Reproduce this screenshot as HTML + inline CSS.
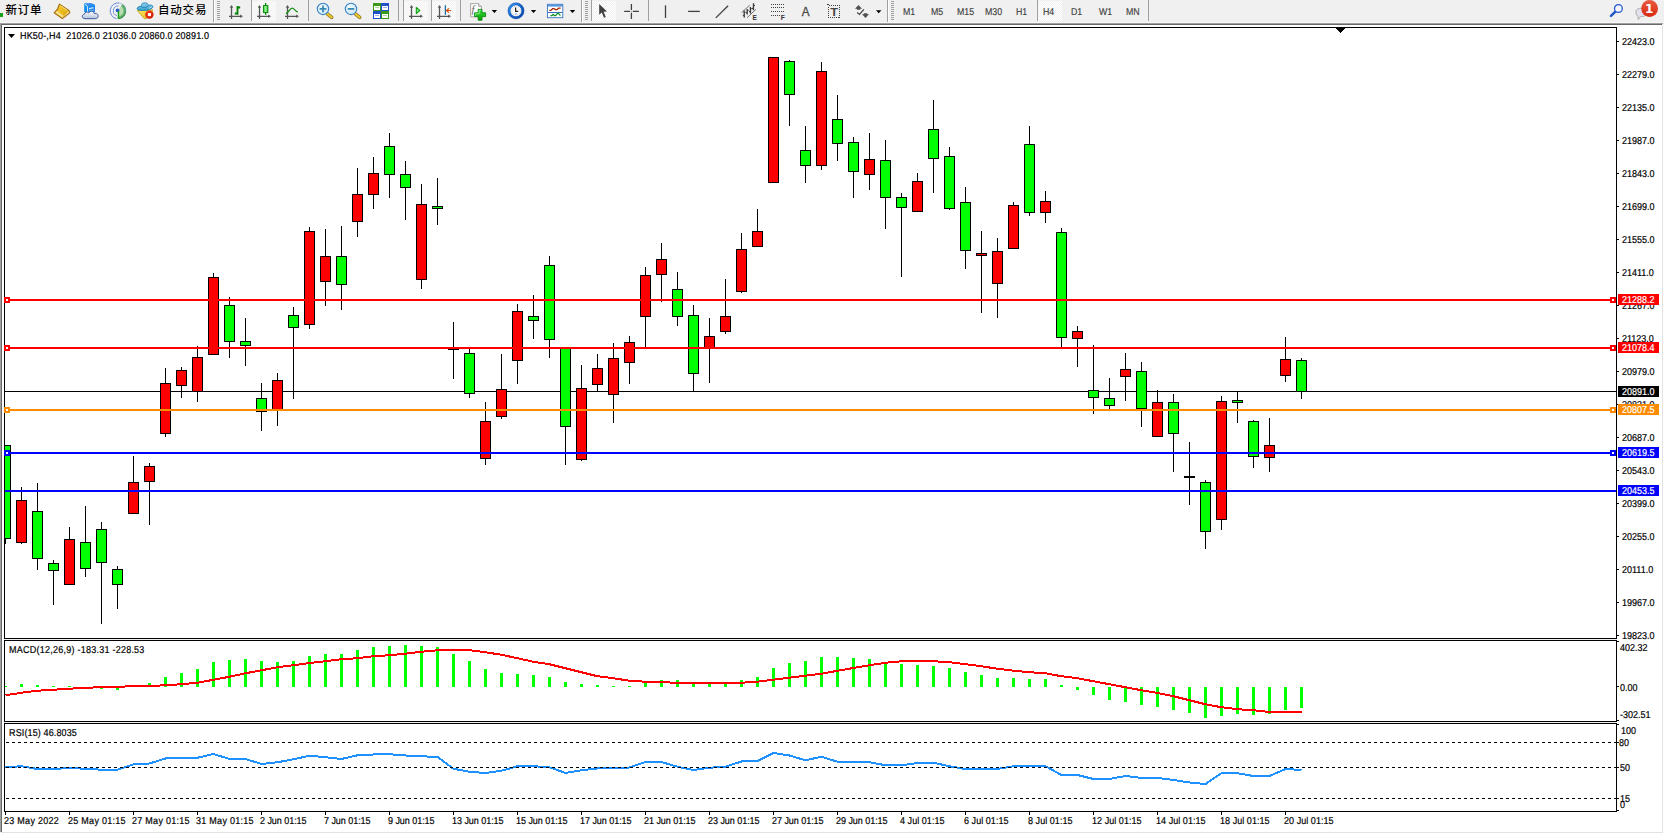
<!DOCTYPE html>
<html><head><meta charset="utf-8"><title>HK50-,H4</title>
<style>
html,body{margin:0;padding:0}
body{width:1664px;height:834px;background:#f0f0f0;position:relative;overflow:hidden;font-family:"Liberation Sans","Noto Sans CJK SC",sans-serif}
.t{position:absolute;font-size:10px;line-height:12px;height:12px;color:#000;white-space:nowrap;transform:scaleX(.9);transform-origin:0 0;text-rendering:geometricPrecision;-webkit-text-stroke:.2px #000}
.tl{letter-spacing:.19px}
.lb{position:absolute;left:1618px;width:41px;height:11px;color:#fff;white-space:nowrap;overflow:hidden}
.lb span{position:absolute;left:4px;top:1px;font-size:10px;line-height:12px;transform:scaleX(.9);transform-origin:0 0;text-rendering:geometricPrecision;-webkit-text-stroke:.2px #fff}
#white{position:absolute;left:2px;top:25px;right:0;bottom:0;background:#fff}
.ln{position:absolute;}
.cj{position:absolute;font-size:11.5px;letter-spacing:.8px;line-height:16px;font-weight:500;color:#000;white-space:nowrap}
.tf{position:absolute;top:7px;font-size:10px;line-height:12px;color:#404040;white-space:nowrap;transform:scaleX(.88);transform-origin:0 0;text-rendering:geometricPrecision;-webkit-text-stroke:.15px #404040}
</style></head><body>
<div class="ln" style="left:0;top:22px;width:1664px;height:1px;background:#f7f7f7"></div>
<div class="ln" style="left:0;top:23px;width:1663px;height:1px;background:#a0a0a0"></div>
<div class="ln" style="left:0;top:23px;width:1px;height:810px;background:#a0a0a0"></div>
<div class="ln" style="left:1px;top:24px;width:1661px;height:1px;background:#696969"></div>
<div class="ln" style="left:1px;top:24px;width:1px;height:808px;background:#696969"></div>
<div id="white"></div><div class="ln" style="left:0;top:832px;width:2px;height:2px;background:#fff"></div>
<div class="ln" style="left:1662px;top:25px;width:1px;height:808px;background:#e3e3e3"></div>
<div class="ln" style="left:1px;top:832px;width:1662px;height:1px;background:#e3e3e3"></div>
<div id="tb" style="position:absolute;left:0;top:0;width:1664px;height:22px;background:#f0f0f0"></div>
<div class="cj" style="left:5.5px;top:1.5px">新订单</div>
<div class="cj" style="left:158px;top:1.5px">自动交易</div>
<svg width="1664" height="23" viewBox="0 0 1664 23" style="position:absolute;left:0;top:0;overflow:visible">
<defs>
<linearGradient id="gold" x1="0" y1="0" x2="1" y2="1"><stop offset="0" stop-color="#f7d432"/><stop offset="0.6" stop-color="#e9b61a"/><stop offset="1" stop-color="#c98f12"/></linearGradient>
<linearGradient id="cloud" x1="0" y1="0" x2="0" y2="1"><stop offset="0" stop-color="#ffffff"/><stop offset="1" stop-color="#b4c2dc"/></linearGradient>
<linearGradient id="srv" x1="0" y1="0" x2="1" y2="1"><stop offset="0" stop-color="#0a9cf8"/><stop offset="1" stop-color="#1e78e8"/></linearGradient>
<linearGradient id="hat" x1="0" y1="0" x2="0" y2="1"><stop offset="0" stop-color="#8fd0f0"/><stop offset="1" stop-color="#3a9ccc"/></linearGradient>
<linearGradient id="face" x1="0" y1="0" x2="1" y2="1"><stop offset="0" stop-color="#ffe860"/><stop offset="1" stop-color="#e8b820"/></linearGradient>
<radialGradient id="stop" cx="0.4" cy="0.35" r="0.7"><stop offset="0" stop-color="#ff4020"/><stop offset="1" stop-color="#c81800"/></radialGradient>
<linearGradient id="badge" x1="0" y1="0" x2="0" y2="1"><stop offset="0" stop-color="#ea5a40"/><stop offset="1" stop-color="#d62810"/></linearGradient>
<linearGradient id="cndl" x1="0" y1="0" x2="1" y2="0"><stop offset="0" stop-color="#20d020"/><stop offset="0.5" stop-color="#a0f0a0"/><stop offset="1" stop-color="#20c820"/></linearGradient>
<radialGradient id="lens" cx="0.4" cy="0.35" r="0.8"><stop offset="0" stop-color="#f4fbff"/><stop offset="1" stop-color="#bfe3f7"/></radialGradient>
<linearGradient id="plus" x1="0" y1="0" x2="0" y2="1"><stop offset="0" stop-color="#40e040"/><stop offset="1" stop-color="#00a000"/></linearGradient>
<radialGradient id="sig" gradientUnits="userSpaceOnUse" cx="117.8" cy="10.8" r="8.1"><stop offset="0" stop-color="#e4efde"/><stop offset="0.5" stop-color="#b0d6a6"/><stop offset="1" stop-color="#3a9e48"/></radialGradient>
<linearGradient id="clk" x1="0" y1="0" x2="1" y2="1"><stop offset="0" stop-color="#3a94ee"/><stop offset="0.5" stop-color="#1464c8"/><stop offset="1" stop-color="#0a48a8"/></linearGradient>
<pattern id="chk" width="2" height="2" patternUnits="userSpaceOnUse"><rect width="2" height="2" fill="#f0f0f0"/><rect width="1" height="1" fill="#fff"/><rect x="1" y="1" width="1" height="1" fill="#fff"/></pattern>
<g id="grip" shape-rendering="crispEdges"><path d="M0 1.5h3M0 3.5h3M0 5.5h3M0 7.5h3M0 9.5h3M0 11.5h3M0 13.5h3M0 15.5h3M0 17.5h3M0 19.5h3" stroke="#a0a0a0" stroke-width="1"/></g>
<g id="axes"><path d="M2.5 19V6M0 16.3H12.6" fill="none" stroke="#555" stroke-width="1.3"/><path d="M2.5 4.9L4.2 7.7H0.8ZM13.9 16.3L11.2 18V14.6Z" fill="#555"/></g>
<path id="dd" d="M0 0h5.4l-2.7 3z" fill="#000"/>
</defs>
<!-- green bit at far left -->
<rect x="0" y="13" width="3" height="4" fill="#18a018"/>
<!-- gold book -->
<g>
<path d="M59.4 4.1 L68.9 10.4 L69.8 12.7 L62.3 18.6 L54.2 12.8 L57.7 8.8 Z" fill="url(#gold)" stroke="#a2680e" stroke-width="1.1" stroke-linejoin="round"/>
<path d="M68.5 11.2 L69.3 12.6 L63 17.5 L64.3 15.9 Z" fill="#ece2ac"/>
<path d="M55.3 12.6 L57.2 10.9 L64 15.9 L62.2 17.6 Z" fill="#f6e28e"/>
<path d="M60.2 5.6 L67.6 10.5" stroke="#fdf2a8" stroke-width="0.9" opacity="0.8"/>
</g>
<!-- server + cloud -->
<g>
<path d="M84.2 3.6 L91.4 3.2 L95 5 L95 12 L84.2 12 Z" fill="url(#srv)"/>
<path d="M84.2 3.6 L91.4 3.2 L95 5 L87.6 6.2 Z" fill="#3c8cf0"/>
<path d="M84.8 4.2 L87.5 6.4 L87.6 12" fill="none" stroke="#e8f6ff" stroke-width="0.9"/>
<path d="M89.1 8.5 L93.6 7.8" stroke="#f4fbff" stroke-width="1.1"/>
<path d="M89 10.2h5.4" stroke="#9cd4ff" stroke-width="0.7"/>
<path d="M85 18.7 C81.6 18.7 81.4 14.6 84.4 14.2 C84.6 12 87.8 11.6 88.8 13 C90 10.4 93.8 10.8 94.2 13.6 C96.8 12.6 99 15 97.9 17 C97.6 18.2 96.6 18.7 95.6 18.7 Z" fill="url(#cloud)" stroke="#3e5c98" stroke-width="1"/>
</g>
<!-- signal -->
<g>
<path d="M117.8 10.8 L117.8 18.9 A8.1 8.1 0 0 0 122.4 4.1 Z" fill="url(#sig)"/>
<g fill="none" stroke="#3a66d8" stroke-width="1">
<path d="M119 2.9 A8 8 0 0 0 116.6 18.7" opacity="0.75"/>
<path d="M118.6 5.9 A5 5 0 0 0 117 15.7" opacity="0.65"/>
</g>
<g fill="none" stroke="#e6f2e0" stroke-width="0.9" opacity="0.7">
<path d="M118.6 5.9 A5 5 0 0 1 118.6 15.7"/>
</g>
<path d="M119 2.9 A8 8 0 0 1 125.8 10.8" fill="none" stroke="#6a9ac8" stroke-width="0.9" opacity="0.6"/>
<path d="M125.8 10.8 A8 8 0 0 1 118.8 18.8" fill="none" stroke="#2a7a4a" stroke-width="0.9" opacity="0.7"/>
<circle cx="117.6" cy="10.4" r="1.9" fill="#2458d0"/>
<path d="M118.5 10.8 V18.9" stroke="#16a016" stroke-width="1.4"/>
</g>
<!-- hat expert -->
<g>
<path d="M137.4 10.6 L152.7 9.8 L151.8 12.4 L146.6 18.6 L144.2 18.6 Z" fill="url(#face)" stroke="#c49a14" stroke-width="0.8" stroke-linejoin="round"/>
<path d="M137.2 8.2 C137.6 6.6 140 6.2 141.4 6.6 C141 3.2 143 2.9 144.6 2.9 C146.6 2.9 148 3.2 148.3 5.4 C150 4.8 152.8 4.9 152.9 6.7 C152.6 9 147.6 10.4 143.4 10.5 C140 10.6 136.8 10.2 137.2 8.2 Z" fill="url(#hat)" stroke="#1a82ac" stroke-width="0.9" stroke-linejoin="round"/>
<path d="M141.4 6.8 C143 8.2 146.8 7.8 148.3 5.8" fill="none" stroke="#1a82ac" stroke-width="0.8"/>
<path d="M149.4 8.4 L151.6 6.6" stroke="#dff0fb" stroke-width="0.9"/>
<circle cx="149.4" cy="14.6" r="4.2" fill="url(#stop)"/>
<rect x="147.9" y="13.1" width="3.1" height="3" fill="#fff"/>
</g>
<!-- separators -->
<g shape-rendering="crispEdges">
<rect x="213" y="0" width="1" height="22" fill="#a0a0a0"/><rect x="214" y="0" width="1" height="22" fill="#fff"/>
<rect x="251" y="0" width="1" height="21" fill="#a0a0a0"/>
<rect x="308" y="0" width="1" height="21" fill="#a0a0a0"/>
<rect x="398" y="0" width="1" height="21" fill="#a0a0a0"/>
<rect x="403" y="0" width="1" height="21" fill="#a0a0a0"/>
<rect x="431" y="0" width="1" height="21" fill="#a0a0a0"/>
<rect x="460" y="0" width="1" height="21" fill="#a0a0a0"/>
<rect x="581" y="0" width="1" height="22" fill="#a0a0a0"/><rect x="582" y="0" width="1" height="22" fill="#fff"/>
<rect x="591" y="0" width="1" height="21" fill="#a0a0a0"/>
<rect x="648" y="0" width="1" height="21" fill="#a0a0a0"/>
<rect x="887" y="0" width="1" height="22" fill="#a0a0a0"/><rect x="888" y="0" width="1" height="22" fill="#fff"/>
<rect x="1037" y="0" width="1" height="21" fill="#a0a0a0"/>
<rect x="1148" y="0" width="1" height="21" fill="#a0a0a0"/>
<!-- pressed backgrounds -->
<rect x="252" y="1" width="24" height="20" fill="url(#chk)"/>
<rect x="404" y="1" width="24" height="20" fill="url(#chk)"/>
<rect x="432" y="1" width="24" height="20" fill="url(#chk)"/>
<rect x="592" y="1" width="24" height="20" fill="url(#chk)"/>
<rect x="1038" y="1" width="24" height="20" fill="url(#chk)"/>
</g>
<use href="#grip" x="217" y="0"/><use href="#grip" x="585" y="0"/><use href="#grip" x="891" y="0"/>
<!-- bar chart icon -->
<use href="#axes" x="229" y="0"/>
<path d="M237.5 6V14.8M237.5 7.5H240.2M234.8 13.5H237.5" stroke="#008000" stroke-width="1.8" fill="none"/>
<!-- candle icon -->
<use href="#axes" x="257" y="0"/>
<path d="M265.6 3V14.8" stroke="#008000" stroke-width="1.3"/>
<rect x="263.4" y="5.6" width="4.5" height="7" fill="url(#cndl)" stroke="#008000" stroke-width="0.9"/>
<!-- line icon -->
<use href="#axes" x="285" y="0"/>
<path d="M286 13.6 C289 12 290 8.2 292.2 8.2 C294.4 8.2 295 11.4 297.8 12" stroke="#189018" stroke-width="1.3" fill="none"/>
<!-- zoom in -->
<g>
<path d="M327 13.6 L331.7 17.4" stroke="#8a6a10" stroke-width="3.4" stroke-linecap="round"/>
<path d="M327 13.6 L331.7 17.4" stroke="#e8c830" stroke-width="2" stroke-linecap="round"/>
<circle cx="323" cy="8.9" r="5.7" fill="url(#lens)" stroke="#3a80c8" stroke-width="1.1"/>
<path d="M319.6 8.9h6.8M323 5.5v6.8" stroke="#3a88b4" stroke-width="1.8"/>
</g>
<!-- zoom out -->
<g>
<path d="M355 13.6 L359.7 17.4" stroke="#8a6a10" stroke-width="3.4" stroke-linecap="round"/>
<path d="M355 13.6 L359.7 17.4" stroke="#e8c830" stroke-width="2" stroke-linecap="round"/>
<circle cx="351" cy="8.9" r="5.7" fill="url(#lens)" stroke="#3a80c8" stroke-width="1.1"/>
<path d="M347.8 8.9h6.4" stroke="#3a88b4" stroke-width="1.8"/>
</g>
<!-- tile -->
<g shape-rendering="crispEdges">
<rect x="373" y="3" width="8" height="8" fill="#3a9a18"/><rect x="381" y="3" width="8" height="8" fill="#2050c8"/>
<rect x="373" y="11" width="8" height="8" fill="#2050c8"/><rect x="381" y="11" width="8" height="8" fill="#3a9a18"/>
<rect x="374" y="6" width="6" height="4" fill="#fff"/><rect x="382" y="6" width="6" height="4" fill="#fff"/>
<rect x="374" y="14" width="6" height="4" fill="#fff"/><rect x="382" y="14" width="6" height="4" fill="#fff"/>
<rect x="375" y="7" width="4" height="1" fill="#a8dc98"/><rect x="383" y="7" width="4" height="1" fill="#98b0f0"/>
<rect x="375" y="15" width="4" height="1" fill="#98b0f0"/><rect x="383" y="15" width="4" height="1" fill="#a8dc98"/>
</g>
<!-- autoscroll -->
<use href="#axes" x="409" y="0"/>
<path d="M416.3 7.4 L419.8 10.5 L416.3 13.6 Z" fill="#90e890" stroke="#10a010" stroke-width="1.1" stroke-linejoin="round"/>
<!-- chart shift -->
<use href="#axes" x="437" y="0"/>
<path d="M445.4 5.3V14.8" stroke="#1870a8" stroke-width="1.3"/>
<path d="M446.4 10.5H451M449 8.4L446.4 10.5L449 12.6" stroke="#e05000" stroke-width="1.2" fill="none"/>
<!-- indicators -->
<g>
<path d="M470.6 3.6 H478.6 L481.4 6.4 V16.8 H470.6 Z" fill="#fdfdfd" stroke="#909090" stroke-width="0.8"/>
<path d="M478.6 3.6 V6.4 H481.4" fill="#e0e0e0" stroke="#909090" stroke-width="0.7"/>
<text x="471.6" y="13.4" font-family="Liberation Serif,serif" font-style="italic" font-size="10.5" fill="#606060">f</text>
<path d="M478.2 9.4 h3.8 v3.4 h3.6 v3.8 h-3.6 v3.6 h-3.8 v-3.6 h-3.6 v-3.8 h3.6 Z" fill="url(#plus)" stroke="#0a8a0a" stroke-width="0.9"/>
<path d="M479.2 10.4 h1.8 M479.2 10.4 v3.4 h-3.6 v1.8" fill="none" stroke="#a8f4a8" stroke-width="0.9" opacity="0.85"/>
</g>
<use href="#dd" x="491.7" y="10"/>
<!-- clock -->
<g>
<circle cx="516" cy="10.8" r="6.8" fill="#fafafa" stroke="url(#clk)" stroke-width="2.7"/>
<circle cx="516" cy="10.8" r="8.1" fill="none" stroke="#0c48a0" stroke-width="0.4"/>
<circle cx="516" cy="10.8" r="4.3" fill="none" stroke="#9a9a9a" stroke-width="0.9" stroke-dasharray="0.7 1.55"/>
<path d="M515.6 7.4V11.3H518.2" stroke="#202020" stroke-width="1.2" fill="none"/>
<path d="M515 13.9h2" stroke="#5a9af0" stroke-width="0.8"/>
</g>
<use href="#dd" x="530.8" y="10"/>
<!-- template -->
<g>
<rect x="547.4" y="4.3" width="15.4" height="13.4" fill="#fff" stroke="#3472c4" stroke-width="0.9"/>
<rect x="547.8" y="4.6" width="14.6" height="2" fill="#5a96e0"/>
<path d="M548 12.5h14.4" stroke="#3472c4" stroke-width="1"/>
<path d="M549.4 10.4 H551 L552.6 8.6 H554 L555.4 9.6 H557 L558.6 8.2 H560.6" stroke="#a82000" stroke-width="1.2" fill="none"/>
<path d="M550.4 15.6 H552 L553 14.4 L554.6 15.6 H555.6 L557.4 13.4 H558.4 L560.4 15.6" stroke="#109020" stroke-width="1.2" fill="none"/>
</g>
<use href="#dd" x="569.8" y="10"/>
<!-- cursor -->
<path d="M599.2 4.1 V14.7 L601.8 12.4 L604 17.7 L605.8 17 L603.6 11.8 L607 11.5 Z" fill="#404040"/>
<!-- crosshair -->
<path d="M624.2 11.4H630M632.8 11.4H638.9M631.4 4.1V10M631.4 12.8V18.9" stroke="#404040" stroke-width="1.3"/>
<rect x="631" y="11" width="0.8" height="0.8" fill="#606060"/>
<!-- vline -->
<path d="M665.5 5.3V17.9" stroke="#404040" stroke-width="1.3"/>
<!-- hline -->
<path d="M688.1 11.4H699.8" stroke="#404040" stroke-width="1.3"/>
<!-- trend -->
<path d="M715.8 17.9L728.1 5.7" stroke="#404040" stroke-width="1.3"/>
<!-- channel -->
<g stroke="#505050" stroke-width="0.8" fill="none">
<path d="M741.6 12.6L749.8 5.1M747.1 17.7L755.9 9.4"/>
</g>
<g stroke="#383838" stroke-width="1.3" fill="none">
<path d="M744.3 17.4L744.1 10.6M747.2 14.6L747.2 9M750.5 13.6L750.4 7.1M753.4 10.2L753.5 3.2"/>
<path d="M742.8 15.6h1.4M744.2 12.2h1.4M745.8 12.8h1.4M747.2 10.4h1.4M749 11.6h1.4M750.4 8.6h1.4M752 8.4h1.4M753.5 5.4h1.4" stroke-width="1"/>
</g>
<text x="752.6" y="19.6" font-family="Liberation Sans,sans-serif" font-size="6.6" font-weight="bold" fill="#303030">E</text>
<!-- fibo -->
<g stroke="#404040" stroke-width="1" stroke-dasharray="1 1" shape-rendering="crispEdges">
<path d="M771 4.5H785M771 7.5H785M771 11.5H785M771 15.5H781"/>
</g>
<text x="780.8" y="19.6" font-family="Liberation Sans,sans-serif" font-size="6.6" font-weight="bold" fill="#303030">F</text>
<!-- A -->
<text x="801.7" y="15.9" font-family="Liberation Sans,sans-serif" font-size="12.6" textLength="7.8" lengthAdjust="spacingAndGlyphs" fill="#484848" stroke="#484848" stroke-width="0.3">A</text>
<!-- T box -->
<rect x="828.5" y="5.5" width="11" height="12" fill="none" stroke="#404040" stroke-width="1" stroke-dasharray="1 1" shape-rendering="crispEdges"/>
<rect x="827" y="4" width="2" height="1" fill="#404040"/>
<text x="834.2" y="15.7" text-anchor="middle" font-family="Liberation Sans,sans-serif" font-size="10.6" font-weight="bold" textLength="7.8" lengthAdjust="spacingAndGlyphs" fill="#484848">T</text>
<!-- arrows -->
<g fill="#505050">
<path d="M858.5 5.1L862 8.8H860.2V9.8H856.8V8.8H855Z"/>
<path d="M865.5 17.9L869 14.3H867.2V13.3H863.8V14.3H862Z"/>
<path d="M857.2 12.5L859.5 14.4L863.9 9.4" fill="none" stroke="#404040" stroke-width="1.2"/>
</g>
<use href="#dd" x="876" y="10.2"/>
<!-- search -->
<g>
<path d="M1615.6 11.4L1611 15.9" stroke="#2458c8" stroke-width="2.6" stroke-linecap="round"/>
<circle cx="1618.4" cy="8.5" r="3.9" fill="#f4f6ff" stroke="#2458d0" stroke-width="1.3"/>
</g>
<!-- bubble + badge -->
<g>
<path d="M1636 13 C1635 9.5 1638.5 8.2 1641.5 8.2 C1645 8.2 1647.5 10 1647 13.2 C1646.6 16 1643.6 16.8 1640.4 16.6 L1638.4 19.6 L1638 16.4 C1636.8 15.8 1636.2 14.6 1636 13 Z" fill="#e0e0ee" stroke="#a8a8a8" stroke-width="0.9"/>
<circle cx="1649.6" cy="8.5" r="8.4" fill="url(#badge)"/>
<text x="1649.2" y="13" text-anchor="middle" font-family="DejaVu Sans,sans-serif" font-weight="bold" font-size="12" fill="#fff">1</text>
</g>
</svg>
<div class="tf" style="left:903px">M1</div><div class="tf" style="left:931px">M5</div><div class="tf" style="left:957px">M15</div><div class="tf" style="left:985px">M30</div><div class="tf" style="left:1015.5px">H1</div><div class="tf" style="left:1042.5px">H4</div><div class="tf" style="left:1071px">D1</div><div class="tf" style="left:1099px">W1</div><div class="tf" style="left:1126px">MN</div>

<svg id="chart" width="1664" height="834" viewBox="0 0 1664 834" shape-rendering="crispEdges" style="position:absolute;left:0;top:0">
<defs><clipPath id="cm"><rect x="5" y="28" width="1611" height="610"/></clipPath><clipPath id="c2"><rect x="5" y="641" width="1611" height="80"/></clipPath><clipPath id="c3"><rect x="5" y="724" width="1611" height="87"/></clipPath></defs>
<rect x="4" y="27" width="1613" height="1" fill="#000"/>
<rect x="4" y="27" width="1" height="612" fill="#000"/>
<rect x="4" y="638" width="1613" height="1" fill="#000"/>
<rect x="1616" y="27" width="1" height="785" fill="#000"/>
<rect x="4" y="640" width="1613" height="1" fill="#000"/>
<rect x="4" y="640" width="1" height="82" fill="#000"/>
<rect x="4" y="721" width="1613" height="1" fill="#000"/>
<rect x="4" y="723" width="1613" height="1" fill="#000"/>
<rect x="4" y="723" width="1" height="89" fill="#000"/>
<rect x="4" y="811" width="1613" height="1" fill="#000"/>
<g clip-path="url(#cm)">
<rect x="5" y="391" width="1611" height="1" fill="#000"/>
<rect x="5" y="445" width="1" height="99" fill="#000"/>
<rect x="0" y="445" width="11" height="94" fill="#000"/>
<rect x="1" y="446" width="9" height="92" fill="#00ff00"/>
<rect x="21" y="487" width="1" height="57" fill="#000"/>
<rect x="16" y="500" width="11" height="43" fill="#000"/>
<rect x="17" y="501" width="9" height="41" fill="#ff0000"/>
<rect x="37" y="483" width="1" height="87" fill="#000"/>
<rect x="32" y="511" width="11" height="48" fill="#000"/>
<rect x="33" y="512" width="9" height="46" fill="#00ff00"/>
<rect x="53" y="560" width="1" height="45" fill="#000"/>
<rect x="48" y="563" width="11" height="8" fill="#000"/>
<rect x="49" y="564" width="9" height="6" fill="#00ff00"/>
<rect x="69" y="527" width="1" height="58" fill="#000"/>
<rect x="64" y="539" width="11" height="46" fill="#000"/>
<rect x="65" y="540" width="9" height="44" fill="#ff0000"/>
<rect x="85" y="506" width="1" height="71" fill="#000"/>
<rect x="80" y="542" width="11" height="27" fill="#000"/>
<rect x="81" y="543" width="9" height="25" fill="#00ff00"/>
<rect x="101" y="522" width="1" height="102" fill="#000"/>
<rect x="96" y="529" width="11" height="34" fill="#000"/>
<rect x="97" y="530" width="9" height="32" fill="#00ff00"/>
<rect x="117" y="566" width="1" height="43" fill="#000"/>
<rect x="112" y="569" width="11" height="16" fill="#000"/>
<rect x="113" y="570" width="9" height="14" fill="#00ff00"/>
<rect x="133" y="456" width="1" height="58" fill="#000"/>
<rect x="128" y="482" width="11" height="32" fill="#000"/>
<rect x="129" y="483" width="9" height="30" fill="#ff0000"/>
<rect x="149" y="463" width="1" height="62" fill="#000"/>
<rect x="144" y="466" width="11" height="16" fill="#000"/>
<rect x="145" y="467" width="9" height="14" fill="#ff0000"/>
<rect x="165" y="368" width="1" height="69" fill="#000"/>
<rect x="160" y="383" width="11" height="51" fill="#000"/>
<rect x="161" y="384" width="9" height="49" fill="#ff0000"/>
<rect x="181" y="367" width="1" height="31" fill="#000"/>
<rect x="176" y="370" width="11" height="16" fill="#000"/>
<rect x="177" y="371" width="9" height="14" fill="#ff0000"/>
<rect x="197" y="346" width="1" height="56" fill="#000"/>
<rect x="192" y="357" width="11" height="35" fill="#000"/>
<rect x="193" y="358" width="9" height="33" fill="#ff0000"/>
<rect x="213" y="273" width="1" height="82" fill="#000"/>
<rect x="208" y="277" width="11" height="78" fill="#000"/>
<rect x="209" y="278" width="9" height="76" fill="#ff0000"/>
<rect x="229" y="297" width="1" height="61" fill="#000"/>
<rect x="224" y="305" width="11" height="37" fill="#000"/>
<rect x="225" y="306" width="9" height="35" fill="#00ff00"/>
<rect x="245" y="318" width="1" height="48" fill="#000"/>
<rect x="240" y="341" width="11" height="5" fill="#000"/>
<rect x="241" y="342" width="9" height="3" fill="#00ff00"/>
<rect x="261" y="383" width="1" height="48" fill="#000"/>
<rect x="256" y="398" width="11" height="14" fill="#000"/>
<rect x="257" y="399" width="9" height="12" fill="#00ff00"/>
<rect x="277" y="373" width="1" height="53" fill="#000"/>
<rect x="272" y="380" width="11" height="31" fill="#000"/>
<rect x="273" y="381" width="9" height="29" fill="#ff0000"/>
<rect x="293" y="307" width="1" height="92" fill="#000"/>
<rect x="288" y="315" width="11" height="13" fill="#000"/>
<rect x="289" y="316" width="9" height="11" fill="#00ff00"/>
<rect x="309" y="227" width="1" height="102" fill="#000"/>
<rect x="304" y="231" width="11" height="94" fill="#000"/>
<rect x="305" y="232" width="9" height="92" fill="#ff0000"/>
<rect x="325" y="229" width="1" height="77" fill="#000"/>
<rect x="320" y="256" width="11" height="26" fill="#000"/>
<rect x="321" y="257" width="9" height="24" fill="#ff0000"/>
<rect x="341" y="226" width="1" height="84" fill="#000"/>
<rect x="336" y="256" width="11" height="29" fill="#000"/>
<rect x="337" y="257" width="9" height="27" fill="#00ff00"/>
<rect x="357" y="168" width="1" height="69" fill="#000"/>
<rect x="352" y="194" width="11" height="28" fill="#000"/>
<rect x="353" y="195" width="9" height="26" fill="#ff0000"/>
<rect x="373" y="157" width="1" height="52" fill="#000"/>
<rect x="368" y="173" width="11" height="22" fill="#000"/>
<rect x="369" y="174" width="9" height="20" fill="#ff0000"/>
<rect x="389" y="133" width="1" height="65" fill="#000"/>
<rect x="384" y="146" width="11" height="29" fill="#000"/>
<rect x="385" y="147" width="9" height="27" fill="#00ff00"/>
<rect x="405" y="161" width="1" height="59" fill="#000"/>
<rect x="400" y="174" width="11" height="14" fill="#000"/>
<rect x="401" y="175" width="9" height="12" fill="#00ff00"/>
<rect x="421" y="184" width="1" height="105" fill="#000"/>
<rect x="416" y="204" width="11" height="76" fill="#000"/>
<rect x="417" y="205" width="9" height="74" fill="#ff0000"/>
<rect x="437" y="178" width="1" height="47" fill="#000"/>
<rect x="432" y="206" width="11" height="3" fill="#000"/>
<rect x="433" y="207" width="9" height="1" fill="#00ff00"/>
<rect x="453" y="322" width="1" height="57" fill="#000"/>
<rect x="448" y="349" width="11" height="1" fill="#000"/>
<rect x="469" y="349" width="1" height="49" fill="#000"/>
<rect x="464" y="353" width="11" height="41" fill="#000"/>
<rect x="465" y="354" width="9" height="39" fill="#00ff00"/>
<rect x="485" y="402" width="1" height="63" fill="#000"/>
<rect x="480" y="421" width="11" height="38" fill="#000"/>
<rect x="481" y="422" width="9" height="36" fill="#ff0000"/>
<rect x="501" y="354" width="1" height="65" fill="#000"/>
<rect x="496" y="389" width="11" height="28" fill="#000"/>
<rect x="497" y="390" width="9" height="26" fill="#ff0000"/>
<rect x="517" y="304" width="1" height="80" fill="#000"/>
<rect x="512" y="311" width="11" height="50" fill="#000"/>
<rect x="513" y="312" width="9" height="48" fill="#ff0000"/>
<rect x="533" y="295" width="1" height="44" fill="#000"/>
<rect x="528" y="316" width="11" height="5" fill="#000"/>
<rect x="529" y="317" width="9" height="3" fill="#00ff00"/>
<rect x="549" y="256" width="1" height="102" fill="#000"/>
<rect x="544" y="265" width="11" height="75" fill="#000"/>
<rect x="545" y="266" width="9" height="73" fill="#00ff00"/>
<rect x="565" y="347" width="1" height="118" fill="#000"/>
<rect x="560" y="347" width="11" height="80" fill="#000"/>
<rect x="561" y="348" width="9" height="78" fill="#00ff00"/>
<rect x="581" y="365" width="1" height="96" fill="#000"/>
<rect x="576" y="388" width="11" height="72" fill="#000"/>
<rect x="577" y="389" width="9" height="70" fill="#ff0000"/>
<rect x="597" y="354" width="1" height="38" fill="#000"/>
<rect x="592" y="368" width="11" height="17" fill="#000"/>
<rect x="593" y="369" width="9" height="15" fill="#ff0000"/>
<rect x="613" y="343" width="1" height="80" fill="#000"/>
<rect x="608" y="358" width="11" height="37" fill="#000"/>
<rect x="609" y="359" width="9" height="35" fill="#ff0000"/>
<rect x="629" y="336" width="1" height="48" fill="#000"/>
<rect x="624" y="342" width="11" height="21" fill="#000"/>
<rect x="625" y="343" width="9" height="19" fill="#ff0000"/>
<rect x="645" y="267" width="1" height="80" fill="#000"/>
<rect x="640" y="275" width="11" height="42" fill="#000"/>
<rect x="641" y="276" width="9" height="40" fill="#ff0000"/>
<rect x="661" y="243" width="1" height="59" fill="#000"/>
<rect x="656" y="259" width="11" height="16" fill="#000"/>
<rect x="657" y="260" width="9" height="14" fill="#ff0000"/>
<rect x="677" y="272" width="1" height="54" fill="#000"/>
<rect x="672" y="289" width="11" height="28" fill="#000"/>
<rect x="673" y="290" width="9" height="26" fill="#00ff00"/>
<rect x="693" y="305" width="1" height="87" fill="#000"/>
<rect x="688" y="315" width="11" height="59" fill="#000"/>
<rect x="689" y="316" width="9" height="57" fill="#00ff00"/>
<rect x="709" y="318" width="1" height="65" fill="#000"/>
<rect x="704" y="336" width="11" height="13" fill="#000"/>
<rect x="705" y="337" width="9" height="11" fill="#ff0000"/>
<rect x="725" y="279" width="1" height="55" fill="#000"/>
<rect x="720" y="316" width="11" height="16" fill="#000"/>
<rect x="721" y="317" width="9" height="14" fill="#ff0000"/>
<rect x="741" y="233" width="1" height="60" fill="#000"/>
<rect x="736" y="249" width="11" height="43" fill="#000"/>
<rect x="737" y="250" width="9" height="41" fill="#ff0000"/>
<rect x="757" y="209" width="1" height="38" fill="#000"/>
<rect x="752" y="231" width="11" height="16" fill="#000"/>
<rect x="753" y="232" width="9" height="14" fill="#ff0000"/>
<rect x="773" y="57" width="1" height="126" fill="#000"/>
<rect x="768" y="57" width="11" height="126" fill="#000"/>
<rect x="769" y="58" width="9" height="124" fill="#ff0000"/>
<rect x="789" y="60" width="1" height="66" fill="#000"/>
<rect x="784" y="61" width="11" height="34" fill="#000"/>
<rect x="785" y="62" width="9" height="32" fill="#00ff00"/>
<rect x="805" y="126" width="1" height="57" fill="#000"/>
<rect x="800" y="150" width="11" height="16" fill="#000"/>
<rect x="801" y="151" width="9" height="14" fill="#00ff00"/>
<rect x="821" y="62" width="1" height="108" fill="#000"/>
<rect x="816" y="71" width="11" height="95" fill="#000"/>
<rect x="817" y="72" width="9" height="93" fill="#ff0000"/>
<rect x="837" y="95" width="1" height="66" fill="#000"/>
<rect x="832" y="119" width="11" height="25" fill="#000"/>
<rect x="833" y="120" width="9" height="23" fill="#00ff00"/>
<rect x="853" y="137" width="1" height="61" fill="#000"/>
<rect x="848" y="142" width="11" height="30" fill="#000"/>
<rect x="849" y="143" width="9" height="28" fill="#00ff00"/>
<rect x="869" y="133" width="1" height="57" fill="#000"/>
<rect x="864" y="159" width="11" height="16" fill="#000"/>
<rect x="865" y="160" width="9" height="14" fill="#ff0000"/>
<rect x="885" y="140" width="1" height="89" fill="#000"/>
<rect x="880" y="160" width="11" height="38" fill="#000"/>
<rect x="881" y="161" width="9" height="36" fill="#00ff00"/>
<rect x="901" y="193" width="1" height="84" fill="#000"/>
<rect x="896" y="197" width="11" height="11" fill="#000"/>
<rect x="897" y="198" width="9" height="9" fill="#00ff00"/>
<rect x="917" y="173" width="1" height="39" fill="#000"/>
<rect x="912" y="181" width="11" height="31" fill="#000"/>
<rect x="913" y="182" width="9" height="29" fill="#ff0000"/>
<rect x="933" y="100" width="1" height="93" fill="#000"/>
<rect x="928" y="129" width="11" height="30" fill="#000"/>
<rect x="929" y="130" width="9" height="28" fill="#00ff00"/>
<rect x="949" y="147" width="1" height="63" fill="#000"/>
<rect x="944" y="156" width="11" height="53" fill="#000"/>
<rect x="945" y="157" width="9" height="51" fill="#00ff00"/>
<rect x="965" y="187" width="1" height="82" fill="#000"/>
<rect x="960" y="202" width="11" height="49" fill="#000"/>
<rect x="961" y="203" width="9" height="47" fill="#00ff00"/>
<rect x="981" y="231" width="1" height="82" fill="#000"/>
<rect x="976" y="253" width="11" height="3" fill="#000"/>
<rect x="977" y="254" width="9" height="1" fill="#ff0000"/>
<rect x="997" y="238" width="1" height="80" fill="#000"/>
<rect x="992" y="251" width="11" height="33" fill="#000"/>
<rect x="993" y="252" width="9" height="31" fill="#ff0000"/>
<rect x="1013" y="202" width="1" height="47" fill="#000"/>
<rect x="1008" y="205" width="11" height="44" fill="#000"/>
<rect x="1009" y="206" width="9" height="42" fill="#ff0000"/>
<rect x="1029" y="126" width="1" height="90" fill="#000"/>
<rect x="1024" y="144" width="11" height="69" fill="#000"/>
<rect x="1025" y="145" width="9" height="67" fill="#00ff00"/>
<rect x="1045" y="191" width="1" height="32" fill="#000"/>
<rect x="1040" y="201" width="11" height="12" fill="#000"/>
<rect x="1041" y="202" width="9" height="10" fill="#ff0000"/>
<rect x="1061" y="228" width="1" height="119" fill="#000"/>
<rect x="1056" y="232" width="11" height="106" fill="#000"/>
<rect x="1057" y="233" width="9" height="104" fill="#00ff00"/>
<rect x="1077" y="326" width="1" height="41" fill="#000"/>
<rect x="1072" y="331" width="11" height="8" fill="#000"/>
<rect x="1073" y="332" width="9" height="6" fill="#ff0000"/>
<rect x="1093" y="345" width="1" height="69" fill="#000"/>
<rect x="1088" y="390" width="11" height="8" fill="#000"/>
<rect x="1089" y="391" width="9" height="6" fill="#00ff00"/>
<rect x="1109" y="378" width="1" height="31" fill="#000"/>
<rect x="1104" y="398" width="11" height="8" fill="#000"/>
<rect x="1105" y="399" width="9" height="6" fill="#00ff00"/>
<rect x="1125" y="353" width="1" height="48" fill="#000"/>
<rect x="1120" y="369" width="11" height="8" fill="#000"/>
<rect x="1121" y="370" width="9" height="6" fill="#ff0000"/>
<rect x="1141" y="362" width="1" height="65" fill="#000"/>
<rect x="1136" y="371" width="11" height="38" fill="#000"/>
<rect x="1137" y="372" width="9" height="36" fill="#00ff00"/>
<rect x="1157" y="390" width="1" height="47" fill="#000"/>
<rect x="1152" y="402" width="11" height="35" fill="#000"/>
<rect x="1153" y="403" width="9" height="33" fill="#ff0000"/>
<rect x="1173" y="394" width="1" height="78" fill="#000"/>
<rect x="1168" y="402" width="11" height="32" fill="#000"/>
<rect x="1169" y="403" width="9" height="30" fill="#00ff00"/>
<rect x="1189" y="442" width="1" height="63" fill="#000"/>
<rect x="1184" y="476" width="11" height="2" fill="#000"/>
<rect x="1205" y="480" width="1" height="69" fill="#000"/>
<rect x="1200" y="482" width="11" height="50" fill="#000"/>
<rect x="1201" y="483" width="9" height="48" fill="#00ff00"/>
<rect x="1221" y="396" width="1" height="134" fill="#000"/>
<rect x="1216" y="401" width="11" height="119" fill="#000"/>
<rect x="1217" y="402" width="9" height="117" fill="#ff0000"/>
<rect x="1237" y="391" width="1" height="32" fill="#000"/>
<rect x="1232" y="400" width="11" height="3" fill="#000"/>
<rect x="1233" y="401" width="9" height="1" fill="#00ff00"/>
<rect x="1253" y="420" width="1" height="48" fill="#000"/>
<rect x="1248" y="421" width="11" height="36" fill="#000"/>
<rect x="1249" y="422" width="9" height="34" fill="#00ff00"/>
<rect x="1269" y="418" width="1" height="54" fill="#000"/>
<rect x="1264" y="445" width="11" height="13" fill="#000"/>
<rect x="1265" y="446" width="9" height="11" fill="#ff0000"/>
<rect x="1285" y="337" width="1" height="45" fill="#000"/>
<rect x="1280" y="359" width="11" height="17" fill="#000"/>
<rect x="1281" y="360" width="9" height="15" fill="#ff0000"/>
<rect x="1301" y="358" width="1" height="41" fill="#000"/>
<rect x="1296" y="360" width="11" height="32" fill="#000"/>
<rect x="1297" y="361" width="9" height="30" fill="#00ff00"/>
</g>
<rect x="5" y="299" width="1611" height="2" fill="#ff0000"/>
<rect x="4" y="297" width="6" height="6" fill="#ff0000"/>
<rect x="6" y="299" width="2" height="2" fill="#fff"/>
<rect x="1610" y="297" width="6" height="6" fill="#ff0000"/>
<rect x="1612" y="299" width="2" height="2" fill="#fff"/>
<rect x="5" y="347" width="1611" height="2" fill="#ff0000"/>
<rect x="4" y="345" width="6" height="6" fill="#ff0000"/>
<rect x="6" y="347" width="2" height="2" fill="#fff"/>
<rect x="1610" y="345" width="6" height="6" fill="#ff0000"/>
<rect x="1612" y="347" width="2" height="2" fill="#fff"/>
<rect x="5" y="409" width="1611" height="2" fill="#ff8c00"/>
<rect x="4" y="407" width="6" height="6" fill="#ff8c00"/>
<rect x="6" y="409" width="2" height="2" fill="#fff"/>
<rect x="1610" y="407" width="6" height="6" fill="#ff8c00"/>
<rect x="1612" y="409" width="2" height="2" fill="#fff"/>
<rect x="5" y="452" width="1611" height="2" fill="#0000ff"/>
<rect x="4" y="450" width="6" height="6" fill="#0000ff"/>
<rect x="6" y="452" width="2" height="2" fill="#fff"/>
<rect x="1610" y="450" width="6" height="6" fill="#0000ff"/>
<rect x="1612" y="452" width="2" height="2" fill="#fff"/>
<rect x="5" y="490" width="1611" height="2" fill="#0000ff"/>
<rect x="1616" y="27" width="1" height="785" fill="#000"/>
<rect x="4" y="639" width="1613" height="1" fill="#f0f0f0"/>
<rect x="4" y="722" width="1613" height="1" fill="#f0f0f0"/>
<rect x="1617" y="41" width="2" height="1" fill="#000"/>
<rect x="1617" y="74" width="2" height="1" fill="#000"/>
<rect x="1617" y="107" width="2" height="1" fill="#000"/>
<rect x="1617" y="140" width="2" height="1" fill="#000"/>
<rect x="1617" y="173" width="2" height="1" fill="#000"/>
<rect x="1617" y="206" width="2" height="1" fill="#000"/>
<rect x="1617" y="239" width="2" height="1" fill="#000"/>
<rect x="1617" y="272" width="2" height="1" fill="#000"/>
<rect x="1617" y="305" width="2" height="1" fill="#000"/>
<rect x="1617" y="338" width="2" height="1" fill="#000"/>
<rect x="1617" y="371" width="2" height="1" fill="#000"/>
<rect x="1617" y="404" width="2" height="1" fill="#000"/>
<rect x="1617" y="437" width="2" height="1" fill="#000"/>
<rect x="1617" y="470" width="2" height="1" fill="#000"/>
<rect x="1617" y="503" width="2" height="1" fill="#000"/>
<rect x="1617" y="536" width="2" height="1" fill="#000"/>
<rect x="1617" y="569" width="2" height="1" fill="#000"/>
<rect x="1617" y="602" width="2" height="1" fill="#000"/>
<rect x="1617" y="635" width="2" height="1" fill="#000"/>
<rect x="1336" y="28" width="9" height="1" fill="#000"/>
<rect x="1337" y="29" width="7" height="1" fill="#000"/>
<rect x="1338" y="30" width="5" height="1" fill="#000"/>
<rect x="1339" y="31" width="3" height="1" fill="#000"/>
<rect x="1340" y="32" width="1" height="1" fill="#000"/>
<g clip-path="url(#c2)">
<rect x="4" y="686" width="3" height="1" fill="#00ff00"/>
<rect x="20" y="684" width="3" height="3" fill="#00ff00"/>
<rect x="36" y="685" width="3" height="2" fill="#00ff00"/>
<rect x="52" y="686" width="3" height="1" fill="#00ff00"/>
<rect x="68" y="686" width="3" height="1" fill="#00ff00"/>
<rect x="148" y="683" width="3" height="4" fill="#00ff00"/>
<rect x="164" y="677" width="3" height="10" fill="#00ff00"/>
<rect x="180" y="673" width="3" height="14" fill="#00ff00"/>
<rect x="196" y="669" width="3" height="18" fill="#00ff00"/>
<rect x="212" y="662" width="3" height="25" fill="#00ff00"/>
<rect x="228" y="660" width="3" height="27" fill="#00ff00"/>
<rect x="244" y="659" width="3" height="28" fill="#00ff00"/>
<rect x="260" y="661" width="3" height="26" fill="#00ff00"/>
<rect x="276" y="662" width="3" height="25" fill="#00ff00"/>
<rect x="292" y="661" width="3" height="26" fill="#00ff00"/>
<rect x="308" y="656" width="3" height="31" fill="#00ff00"/>
<rect x="324" y="654" width="3" height="33" fill="#00ff00"/>
<rect x="340" y="654" width="3" height="33" fill="#00ff00"/>
<rect x="356" y="650" width="3" height="37" fill="#00ff00"/>
<rect x="372" y="647" width="3" height="40" fill="#00ff00"/>
<rect x="388" y="646" width="3" height="41" fill="#00ff00"/>
<rect x="404" y="645" width="3" height="42" fill="#00ff00"/>
<rect x="420" y="646" width="3" height="41" fill="#00ff00"/>
<rect x="436" y="647" width="3" height="40" fill="#00ff00"/>
<rect x="452" y="654" width="3" height="33" fill="#00ff00"/>
<rect x="468" y="661" width="3" height="26" fill="#00ff00"/>
<rect x="484" y="669" width="3" height="18" fill="#00ff00"/>
<rect x="500" y="673" width="3" height="14" fill="#00ff00"/>
<rect x="516" y="674" width="3" height="13" fill="#00ff00"/>
<rect x="532" y="675" width="3" height="12" fill="#00ff00"/>
<rect x="548" y="677" width="3" height="10" fill="#00ff00"/>
<rect x="564" y="682" width="3" height="5" fill="#00ff00"/>
<rect x="580" y="684" width="3" height="3" fill="#00ff00"/>
<rect x="596" y="685" width="3" height="2" fill="#00ff00"/>
<rect x="612" y="686" width="3" height="1" fill="#00ff00"/>
<rect x="628" y="686" width="3" height="1" fill="#00ff00"/>
<rect x="644" y="681" width="3" height="6" fill="#00ff00"/>
<rect x="660" y="680" width="3" height="7" fill="#00ff00"/>
<rect x="676" y="680" width="3" height="7" fill="#00ff00"/>
<rect x="692" y="683" width="3" height="4" fill="#00ff00"/>
<rect x="708" y="683" width="3" height="4" fill="#00ff00"/>
<rect x="724" y="683" width="3" height="4" fill="#00ff00"/>
<rect x="740" y="680" width="3" height="7" fill="#00ff00"/>
<rect x="756" y="677" width="3" height="10" fill="#00ff00"/>
<rect x="772" y="668" width="3" height="19" fill="#00ff00"/>
<rect x="788" y="663" width="3" height="24" fill="#00ff00"/>
<rect x="804" y="661" width="3" height="26" fill="#00ff00"/>
<rect x="820" y="657" width="3" height="30" fill="#00ff00"/>
<rect x="836" y="657" width="3" height="30" fill="#00ff00"/>
<rect x="852" y="658" width="3" height="29" fill="#00ff00"/>
<rect x="868" y="659" width="3" height="28" fill="#00ff00"/>
<rect x="884" y="662" width="3" height="25" fill="#00ff00"/>
<rect x="900" y="664" width="3" height="23" fill="#00ff00"/>
<rect x="916" y="665" width="3" height="22" fill="#00ff00"/>
<rect x="932" y="666" width="3" height="21" fill="#00ff00"/>
<rect x="948" y="668" width="3" height="19" fill="#00ff00"/>
<rect x="964" y="672" width="3" height="15" fill="#00ff00"/>
<rect x="980" y="675" width="3" height="12" fill="#00ff00"/>
<rect x="996" y="678" width="3" height="9" fill="#00ff00"/>
<rect x="1012" y="678" width="3" height="9" fill="#00ff00"/>
<rect x="1028" y="679" width="3" height="8" fill="#00ff00"/>
<rect x="1044" y="679" width="3" height="8" fill="#00ff00"/>
<rect x="1060" y="685" width="3" height="2" fill="#00ff00"/>
<rect x="100" y="687" width="3" height="2" fill="#00ff00"/>
<rect x="116" y="687" width="3" height="3" fill="#00ff00"/>
<rect x="1076" y="687" width="3" height="3" fill="#00ff00"/>
<rect x="1092" y="687" width="3" height="8" fill="#00ff00"/>
<rect x="1108" y="687" width="3" height="13" fill="#00ff00"/>
<rect x="1124" y="687" width="3" height="15" fill="#00ff00"/>
<rect x="1140" y="687" width="3" height="18" fill="#00ff00"/>
<rect x="1156" y="687" width="3" height="20" fill="#00ff00"/>
<rect x="1172" y="687" width="3" height="23" fill="#00ff00"/>
<rect x="1188" y="687" width="3" height="26" fill="#00ff00"/>
<rect x="1204" y="687" width="3" height="31" fill="#00ff00"/>
<rect x="1220" y="687" width="3" height="29" fill="#00ff00"/>
<rect x="1236" y="687" width="3" height="27" fill="#00ff00"/>
<rect x="1252" y="687" width="3" height="28" fill="#00ff00"/>
<rect x="1268" y="687" width="3" height="27" fill="#00ff00"/>
<rect x="1284" y="687" width="3" height="23" fill="#00ff00"/>
<rect x="1300" y="687" width="3" height="21" fill="#00ff00"/>
<polyline points="5.5,695.25 21.5,692.75 37.5,690.75 53.5,689.75 69.5,688.75 85.5,687.75 101.5,687.25 117.5,686.75 133.5,686.25 149.5,686.0 165.5,685.25 181.5,684.25 197.5,682.75 213.5,679.75 229.5,676.75 245.5,673.25 261.5,670.25 277.5,667.25 293.5,665.25 309.5,663.0 325.5,661.25 341.5,659.25 357.5,658.25 373.5,656.25 389.5,655.25 405.5,653.75 421.5,651.75 437.5,650.25 453.5,650.0 469.5,650.25 485.5,652.25 501.5,654.75 517.5,658.25 533.5,661.75 549.5,664.25 565.5,668.25 581.5,672.25 597.5,676.25 613.5,678.25 629.5,680.75 645.5,681.75 661.5,682.25 677.5,682.75 693.5,683.25 709.5,683.25 725.5,683.25 741.5,682.75 757.5,681.75 773.5,679.75 789.5,677.75 805.5,675.75 821.5,673.75 837.5,670.75 853.5,668.0 869.5,665.25 885.5,662.75 901.5,661.25 917.5,661.25 933.5,661.25 949.5,662.25 965.5,664.25 981.5,666.25 997.5,668.75 1013.5,670.75 1029.5,672.25 1045.5,673.25 1061.5,676.25 1077.5,678.25 1093.5,681.25 1109.5,684.25 1125.5,687.25 1141.5,690.25 1157.5,693.0 1173.5,696.25 1189.5,700.25 1205.5,704.25 1221.5,707.25 1237.5,709.25 1253.5,710.25 1269.5,712.0 1285.5,712.0 1301.5,712.0" fill="none" stroke="#ff0000" stroke-width="2" stroke-linejoin="round"/>
</g>
<rect x="1617" y="686" width="2" height="1" fill="#000"/>
<rect x="1617" y="641" width="2" height="1" fill="#000"/>
<rect x="1617" y="720" width="2" height="1" fill="#000"/>
<rect x="1617" y="724" width="2" height="1" fill="#000"/>
<rect x="1617" y="810" width="2" height="1" fill="#000"/>
<g clip-path="url(#c3)">
<polyline points="5.5,767.25 21.5,766.25 37.5,769.0 53.5,769.0 69.5,768.0 85.5,768.75 101.5,769.75 117.5,769.75 133.5,764.25 149.5,763.5 165.5,758.5 181.5,758.25 197.5,757.75 213.5,754.0 229.5,759.0 245.5,759.0 261.5,764.0 277.5,762.25 293.5,759.25 309.5,755.75 325.5,757.25 341.5,759.0 357.5,755.25 373.5,754.5 389.5,754.25 405.5,755.5 421.5,756.25 437.5,757.0 453.5,768.75 469.5,771.75 485.5,773.0 501.5,770.75 517.5,766.25 533.5,766.25 549.5,767.25 565.5,773.0 581.5,770.25 597.5,768.5 613.5,768.0 629.5,767.5 645.5,762.0 661.5,762.0 677.5,766.75 693.5,770.0 709.5,767.75 725.5,766.75 741.5,761.5 757.5,761.0 773.5,753.0 789.5,755.5 805.5,760.25 821.5,756.75 837.5,761.75 853.5,761.75 869.5,762.25 885.5,765.25 901.5,765.25 917.5,763.0 933.5,762.75 949.5,766.25 965.5,769.0 981.5,769.0 997.5,769.0 1013.5,766.25 1029.5,766.25 1045.5,766.25 1061.5,775.0 1077.5,775.0 1093.5,779.0 1109.5,779.0 1125.5,776.0 1141.5,778.0 1157.5,778.0 1173.5,780.0 1189.5,782.5 1205.5,784.0 1221.5,773.25 1237.5,773.25 1253.5,776.0 1269.5,776.0 1285.5,769.0 1301.5,770.0" fill="none" stroke="#1e90ff" stroke-width="2" stroke-linejoin="round"/>
<line x1="6" y1="742.5" x2="1616" y2="742.5" stroke="#000" stroke-width="1" stroke-dasharray="3 3"/>
<line x1="6" y1="767.5" x2="1616" y2="767.5" stroke="#000" stroke-width="1" stroke-dasharray="3 3"/>
<line x1="6" y1="798.5" x2="1616" y2="798.5" stroke="#000" stroke-width="1" stroke-dasharray="3 3"/>
</g>
<rect x="1617" y="742" width="2" height="1" fill="#000"/>
<rect x="1617" y="767" width="2" height="1" fill="#000"/>
<rect x="1617" y="798" width="2" height="1" fill="#000"/>
<rect x="5" y="812" width="1" height="3" fill="#000"/>
<rect x="69" y="812" width="1" height="3" fill="#000"/>
<rect x="133" y="812" width="1" height="3" fill="#000"/>
<rect x="197" y="812" width="1" height="3" fill="#000"/>
<rect x="261" y="812" width="1" height="3" fill="#000"/>
<rect x="325" y="812" width="1" height="3" fill="#000"/>
<rect x="389" y="812" width="1" height="3" fill="#000"/>
<rect x="453" y="812" width="1" height="3" fill="#000"/>
<rect x="517" y="812" width="1" height="3" fill="#000"/>
<rect x="581" y="812" width="1" height="3" fill="#000"/>
<rect x="645" y="812" width="1" height="3" fill="#000"/>
<rect x="709" y="812" width="1" height="3" fill="#000"/>
<rect x="773" y="812" width="1" height="3" fill="#000"/>
<rect x="837" y="812" width="1" height="3" fill="#000"/>
<rect x="901" y="812" width="1" height="3" fill="#000"/>
<rect x="965" y="812" width="1" height="3" fill="#000"/>
<rect x="1029" y="812" width="1" height="3" fill="#000"/>
<rect x="1093" y="812" width="1" height="3" fill="#000"/>
<rect x="1157" y="812" width="1" height="3" fill="#000"/>
<rect x="1221" y="812" width="1" height="3" fill="#000"/>
<rect x="1285" y="812" width="1" height="3" fill="#000"/>
</svg>
<div class="t" style="left:1622px;top:37px;">22423.0</div>
<div class="t" style="left:1622px;top:70px;">22279.0</div>
<div class="t" style="left:1622px;top:103px;">22135.0</div>
<div class="t" style="left:1622px;top:136px;">21987.0</div>
<div class="t" style="left:1622px;top:169px;">21843.0</div>
<div class="t" style="left:1622px;top:202px;">21699.0</div>
<div class="t" style="left:1622px;top:235px;">21555.0</div>
<div class="t" style="left:1622px;top:268px;">21411.0</div>
<div class="t" style="left:1622px;top:301px;">21267.0</div>
<div class="t" style="left:1622px;top:334px;">21123.0</div>
<div class="t" style="left:1622px;top:367px;">20979.0</div>
<div class="t" style="left:1622px;top:400px;">20831.0</div>
<div class="t" style="left:1622px;top:433px;">20687.0</div>
<div class="t" style="left:1622px;top:466px;">20543.0</div>
<div class="t" style="left:1622px;top:499px;">20399.0</div>
<div class="t" style="left:1622px;top:532px;">20255.0</div>
<div class="t" style="left:1622px;top:565px;">20111.0</div>
<div class="t" style="left:1622px;top:598px;">19967.0</div>
<div class="t" style="left:1622px;top:631px;">19823.0</div>
<div class="lb" style="top:294px;background:#ff0000"><span>21288.2</span></div>
<div class="lb" style="top:342px;background:#ff0000"><span>21078.4</span></div>
<div class="lb" style="top:404px;background:#ff8c00"><span>20807.5</span></div>
<div class="lb" style="top:447px;background:#0000ff"><span>20619.5</span></div>
<div class="lb" style="top:485px;background:#0000ff"><span>20453.5</span></div>
<div class="lb" style="top:386px;background:#000"><span>20891.0</span></div>
<div class="t" style="left:1620px;top:643px;">402.32</div>
<div class="t" style="left:1620px;top:683px;">0.00</div>
<div class="t" style="left:1620px;top:710px;">-302.51</div>
<div class="t" style="left:1620.5px;top:726px;">100</div>
<div class="t" style="left:1619px;top:738px;">80</div>
<div class="t" style="left:1619.5px;top:763px;">50</div>
<div class="t" style="left:1619.5px;top:794px;">15</div>
<div class="t" style="left:1620px;top:800px;">0</div>
<div class="t" style="left:3.5px;top:816px;letter-spacing:0.31px">23 May 2022</div>
<div class="t" style="left:67.5px;top:816px;letter-spacing:0.31px">25 May 01:15</div>
<div class="t" style="left:131.5px;top:816px;letter-spacing:0.31px">27 May 01:15</div>
<div class="t" style="left:195.5px;top:816px;letter-spacing:0.31px">31 May 01:15</div>
<div class="t" style="left:259.5px;top:816px;letter-spacing:-0.05px">2 Jun 01:15</div>
<div class="t" style="left:323.5px;top:816px;letter-spacing:-0.05px">7 Jun 01:15</div>
<div class="t" style="left:387.5px;top:816px;letter-spacing:-0.05px">9 Jun 01:15</div>
<div class="t" style="left:451.5px;top:816px;letter-spacing:-0.05px">13 Jun 01:15</div>
<div class="t" style="left:515.5px;top:816px;letter-spacing:-0.05px">15 Jun 01:15</div>
<div class="t" style="left:579.5px;top:816px;letter-spacing:-0.05px">17 Jun 01:15</div>
<div class="t" style="left:643.5px;top:816px;letter-spacing:-0.05px">21 Jun 01:15</div>
<div class="t" style="left:707.5px;top:816px;letter-spacing:-0.05px">23 Jun 01:15</div>
<div class="t" style="left:771.5px;top:816px;letter-spacing:-0.05px">27 Jun 01:15</div>
<div class="t" style="left:835.5px;top:816px;letter-spacing:-0.05px">29 Jun 01:15</div>
<div class="t" style="left:899.5px;top:816px;letter-spacing:0.05px">4 Jul 01:15</div>
<div class="t" style="left:963.5px;top:816px;letter-spacing:0.05px">6 Jul 01:15</div>
<div class="t" style="left:1027.5px;top:816px;letter-spacing:0.05px">8 Jul 01:15</div>
<div class="t" style="left:1091.5px;top:816px;letter-spacing:0.05px">12 Jul 01:15</div>
<div class="t" style="left:1155.5px;top:816px;letter-spacing:0.05px">14 Jul 01:15</div>
<div class="t" style="left:1219.5px;top:816px;letter-spacing:0.05px">18 Jul 01:15</div>
<div class="t" style="left:1283.5px;top:816px;letter-spacing:0.05px">20 Jul 01:15</div>
<div class="t tl" style="left:20px;top:31px;">HK50-,H4&nbsp; 21026.0 21036.0 20860.0 20891.0</div>
<svg style="position:absolute;left:7px;top:33px" width="10" height="6" viewBox="0 0 10 6"><path d="M1 1h7l-3.5 4z" fill="#000"/></svg>
<div class="t tl" style="left:9px;top:645px;letter-spacing:.27px">MACD(12,26,9) -183.31 -228.53</div>
<div class="t tl" style="left:9px;top:728px;letter-spacing:.14px">RSI(15) 46.8035</div>
</body></html>
